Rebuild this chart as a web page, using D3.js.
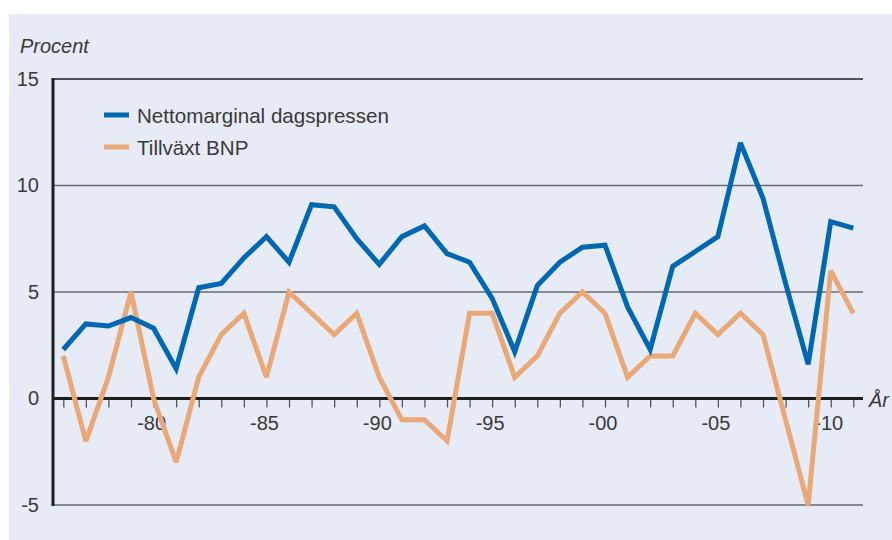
<!DOCTYPE html>
<html>
<head>
<meta charset="utf-8">
<style>
  body { margin: 0; background: #fff; }
  svg text { font-family: "Liberation Sans", Arial, sans-serif; fill: #3a3a3a; }
</style>
</head>
<body>
<svg width="892" height="540"></svg>
<script src="https://d3js.org/d3.v7.min.js"></script>
<script>
// data
var years = d3.range(1976, 2012);
var nettomarginal = [2.3, 3.5, 3.4, 3.8, 3.3, 1.4, 5.2, 5.4, 6.6, 7.6, 6.4, 9.1, 9.0, 7.5, 6.3, 7.6, 8.1, 6.8, 6.4, 4.7,
                     2.2, 5.3, 6.4, 7.1, 7.2, 4.3, 2.3, 6.2, 6.9, 7.6, 12.0, 9.4, 5.4, 1.6, 8.3, 8.0];
var tillvaxtBNP = [2, -2, 1, 5, 0, -3, 1, 3, 4, 1, 5, 4, 3, 4, 1, -1, -1, -2, 4, 4,
                   1, 2, 4, 5, 4, 1, 2, 2, 4, 3, 4, 3, -1, -5, 6, 4];
var yTicks = [-5, 0, 5, 10, 15];
var labelYears = [1980, 1985, 1990, 1995, 2000, 2005, 2010];
var seriesNames = ["Nettomarginal dagspressen", "Tillväxt BNP"];
var colors = ["#0067b2", "#e9a877"];

var svg = d3.select("svg");

// bakgrund
svg.append("rect")
  .attr("x", 9).attr("y", 14)
  .attr("width", 892 - 9).attr("height", 540 - 14)
  .attr("fill", "#e7ebf6");

var plotLeft = 53, plotRight = 863;
var x = d3.scaleLinear().domain([1976, 2011]).range([63.3, 853.3]);
var y = d3.scaleLinear().domain([-5, 15]).range([505, 79]);

// stödlinjer
svg.append("g").selectAll("line")
  .data(yTicks.filter(function (d) { return d !== 0; }))
  .join("line")
  .attr("x1", plotLeft).attr("x2", plotRight)
  .attr("y1", function (d) { return y(d); })
  .attr("y2", function (d) { return y(d); })
  .attr("stroke", function (d) { return d === 15 ? "#222" : "#6a6a6a"; })
  .attr("stroke-width", function (d) { return d === 15 ? 1.5 : 1.3; });

// x-axel med streck
var xAxis = d3.axisBottom(x)
  .tickValues(years)
  .tickSize(9)
  .tickPadding(8)
  .tickFormat(function (d) {
    return labelYears.indexOf(d) >= 0 ? "-" + String(d).slice(2) : "";
  });
var gx = svg.append("g")
  .attr("transform", "translate(0," + y(0) + ")")
  .call(xAxis);
gx.select(".domain").remove();
gx.selectAll(".tick line").attr("stroke", "#555").attr("stroke-width", 1.3);
gx.selectAll(".tick text")
  .attr("font-size", 20)
  .attr("dx", -2.5)
  .attr("fill", "#3a3a3a")
  .attr("font-family", null);

// y-axel etiketter
var yAxis = d3.axisLeft(y).tickValues(yTicks).tickSize(0).tickPadding(14)
  .tickFormat(function (d) { return String(d); });
var gy = svg.append("g")
  .attr("transform", "translate(" + plotLeft + ",0)")
  .call(yAxis);
gy.select(".domain").remove();
gy.selectAll(".tick text")
  .attr("font-size", 20)
  .attr("fill", "#3a3a3a")
  .attr("font-family", null);

// nollinje och vertikal axel
svg.append("line")
  .attr("x1", plotLeft).attr("x2", plotRight)
  .attr("y1", y(0)).attr("y2", y(0))
  .attr("stroke", "#1e1e1e").attr("stroke-width", 3);
svg.append("line")
  .attr("x1", plotLeft).attr("x2", plotLeft)
  .attr("y1", y(15) - 1).attr("y2", y(-5) + 1)
  .attr("stroke", "#1e1e1e").attr("stroke-width", 3);

// linjer
var line = d3.line()
  .x(function (d, i) { return x(years[i]); })
  .y(function (d) { return y(d); });

[tillvaxtBNP, nettomarginal].forEach(function (s, k) {
  svg.append("path")
    .datum(s)
    .attr("fill", "none")
    .attr("stroke", colors[1 - k])
    .attr("stroke-width", 5)
    .attr("stroke-linejoin", "miter")
    .attr("stroke-miterlimit", 3)
    .attr("d", line);
});

// legend
var legend = svg.append("g").selectAll("g")
  .data(seriesNames)
  .join("g")
  .attr("transform", function (d, i) { return "translate(104," + (115 + i * 32) + ")"; });
legend.append("line")
  .attr("x1", 0).attr("x2", 25)
  .attr("stroke", function (d, i) { return colors[i]; })
  .attr("stroke-width", 5);
legend.append("text")
  .attr("x", 33).attr("y", 7.5)
  .attr("font-size", 20.6)
  .text(function (d) { return d; });

// axeltitlar
svg.append("text")
  .attr("x", 20).attr("y", 53)
  .attr("font-size", 20)
  .attr("font-style", "italic")
  .text("Procent");
svg.append("text")
  .attr("x", 869).attr("y", 407)
  .attr("font-size", 20)
  .attr("font-style", "italic")
  .text("År");
</script>
</body>
</html>
